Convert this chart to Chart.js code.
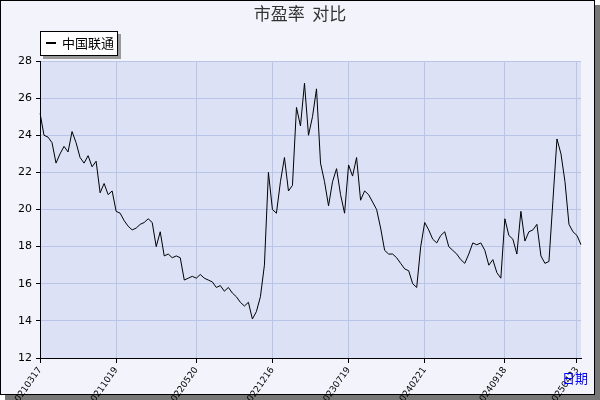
<!DOCTYPE html>
<html><head><meta charset="utf-8">
<script src="https://cdn.jsdelivr.net/npm/chart.js@4/dist/chart.umd.min.js"></script>
<style>html,body{margin:0;padding:0;background:#fff}#w{width:600px;height:400px}</style>
</head><body><div id="w"><canvas id="c" width="600" height="400"></canvas></div>
<script>
const seriesName = '中国联通';
const peValues = [25.2,24.0,23.9,23.6,22.5,23.0,23.4,23.1,24.2,23.6,22.8,22.5,22.9,22.3,22.6,20.9,21.4,20.8,21.0,19.9,19.8,19.4,19.1,18.9,19.0,19.2,19.3,19.5,19.3,18.0,18.8,17.5,17.6,17.4,17.5,17.4,16.2,16.3,16.4,16.3,16.5,16.3,16.2,16.1,15.8,15.9,15.6,15.8,15.5,15.3,15.0,14.8,15.0,14.1,14.5,15.3,17.0,22.0,20.0,19.8,21.5,22.8,21.0,21.3,25.5,24.5,26.8,24.0,25.0,26.5,22.5,21.5,20.2,21.5,22.2,20.8,19.8,22.4,21.8,22.8,20.5,21.0,20.8,20.4,20.0,19.0,17.8,17.6,17.6,17.4,17.1,16.8,16.7,16.0,15.8,18.0,19.3,18.9,18.4,18.2,18.6,18.8,18.0,17.8,17.6,17.3,17.1,17.6,18.2,18.1,18.2,17.8,17.0,17.3,16.6,16.3,19.5,18.6,18.4,17.6,19.9,18.3,18.8,18.9,19.2,17.5,17.1,17.2,20.5,23.8,23.0,21.5,19.2,18.8,18.6,18.1];
const tickDates = ['20210317','20211019','20220520','20221216','20230719','20240221','20240918','20250423'];
const tickIndex = [0,19,39,58,77,96,116,134];
const yTicks = [12,14,16,18,20,22,24,26,28];

const labels = peValues.map((v,i)=>{const k=tickIndex.indexOf(i);return k>=0?tickDates[k]:'';});

const deco = {
  id:'deco',
  beforeDraw(ch){
    const c=ch.ctx, a=ch.chartArea;
    c.save();
    c.fillStyle='#fff';c.fillRect(0,0,600,400);
    c.fillStyle='#777';c.fillRect(5,5,595,395);
    c.fillStyle='#f3f4fb';c.fillRect(0,0,595,395);
    c.strokeStyle='#000';c.lineWidth=1;c.strokeRect(0.5,0.5,594,394);
    c.fillStyle='#dce1f6';c.fillRect(a.left,a.top,a.right-a.left,a.bottom-a.top);
    c.restore();
  },
  afterDraw(ch){
    const c=ch.ctx;
    c.save();
    c.fillStyle='#333';c.font='17px "Noto Sans CJK SC"';c.textAlign='center';c.textBaseline='middle';
    c.fillText('市盈率  对比',300,14);
    c.fillStyle='#999';c.fillRect(43,34,78,25);
    c.fillStyle='#fff';c.fillRect(40,31,78,25);
    c.strokeStyle='#000';c.strokeRect(40.5,31.5,77,24);
    c.fillStyle='#000';c.fillRect(46,42,10,2);
    c.font='13px "Noto Sans CJK SC"';c.textAlign='left';
    c.fillText(seriesName,62,43);
    c.fillStyle='#0000ff';c.font='13px "Noto Sans CJK SC"';
    c.fillText('日期',562,378);
    c.restore();
  }
};

new Chart(document.getElementById('c'),{
  type:'line',
  data:{labels,datasets:[{label:seriesName,data:peValues,borderColor:'#000',borderWidth:1,pointRadius:0,tension:0,fill:false}]},
  options:{
    responsive:false,animation:false,
    layout:{padding:{left:0,right:19,top:61,bottom:0}},
    plugins:{legend:{display:false},tooltip:{enabled:false}},
    scales:{
      x:{
        afterFit(s){s.height=42;},
        offset:false,
        border:{color:'#000'},
        grid:{color:c=>tickIndex.includes(c.index)?'#b8c4e8':'rgba(0,0,0,0)',tickColor:c=>tickIndex.includes(c.index)?'#000':'rgba(0,0,0,0)',tickLength:5},
        ticks:{autoSkip:false,maxRotation:55,minRotation:55,color:'#000',font:{size:9,family:'DejaVu Sans'},padding:2}
      },
      y:{
        min:12,max:28,
        afterFit(s){s.width=40;},
        afterBuildTicks(s){s.ticks=yTicks.map(v=>({value:v}));},
        border:{color:'#000'},
        grid:{color:'#b8c4e8',tickColor:'#000',tickLength:4},
        ticks:{color:'#000',font:{size:11,family:'DejaVu Sans'},padding:4}
      }
    }
  },
  plugins:[deco]
});
</script></body></html>
